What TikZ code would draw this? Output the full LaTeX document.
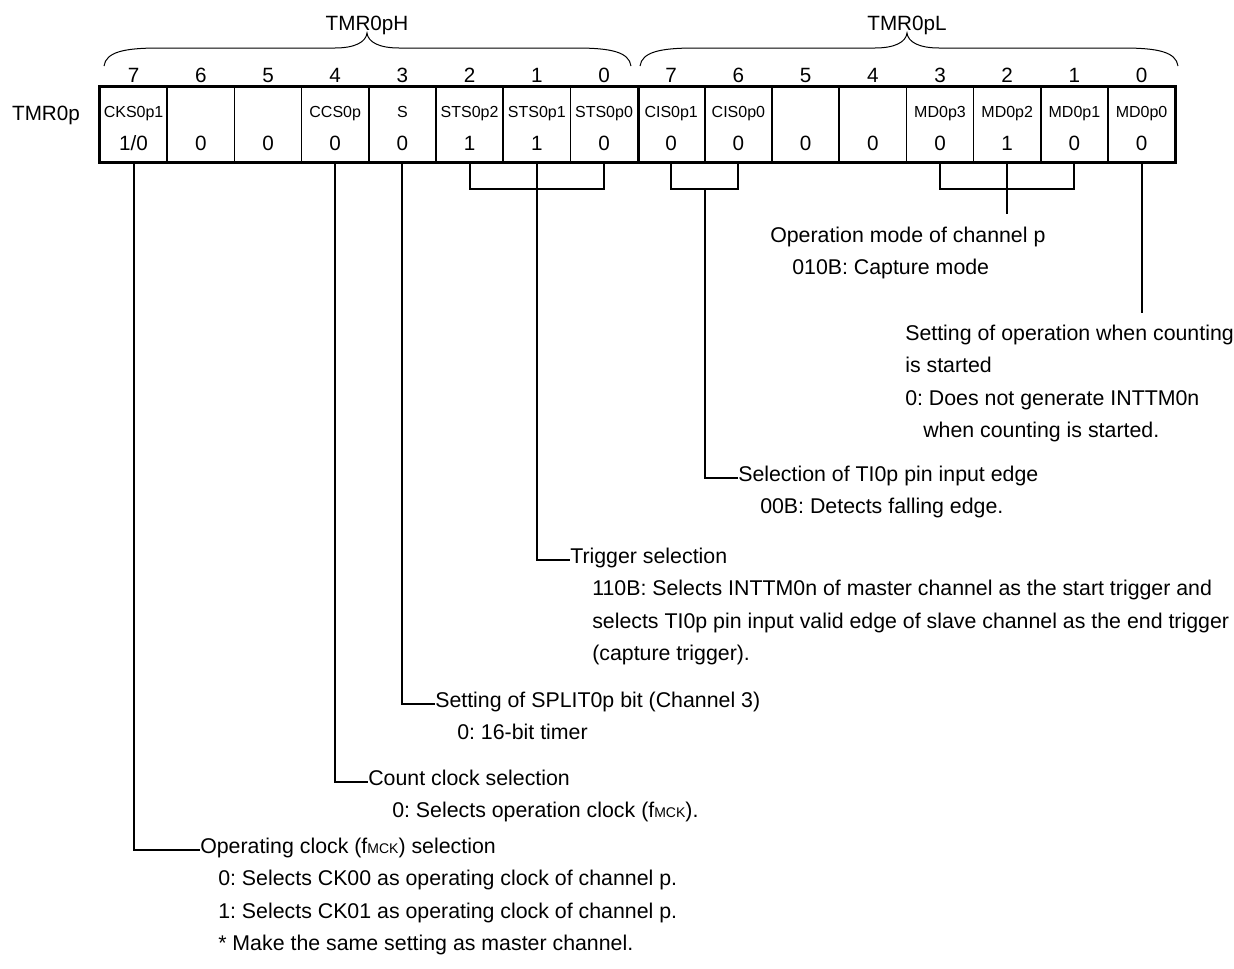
\documentclass[tikz,border=0pt]{standalone}
\usepackage{fontspec}
\setmainfont{Liberation Sans}
\usetikzlibrary{positioning, calc}
\frenchspacing

\tikzset{
  regcell/.style={draw, line width=1.1pt, minimum width=50.4pt, minimum height=56.25pt, inner sep=0pt},
  bitnum/.style={font=\fontsize{15.5}{18}\selectfont, inner sep=0pt},
  bitname/.style={font=\fontsize{12}{14}\selectfont, inner sep=0pt},
  bitval/.style={font=\fontsize{15.5}{18}\selectfont, inner sep=0pt},
  desc/.style={font=\fontsize{16}{24.4}\selectfont, inner sep=0pt, anchor=base west},
  link/.style={line width=1.5pt},
  regbrace/.style={line width=0.75pt}
}
\newcommand{\fmck}{f{\fontsize{10.5}{12}\selectfont MCK}}
% lines of a description, first line on the node's baseline
\newcommand{\desclines}[1]{\begin{tabular}[t]{@{}l@{}}#1\end{tabular}}
% half-register brace: left end, tip, right end
\newcommand{\halfbrace}[3]{%
  \draw[regbrace] (#1,66) .. controls (#1+2,52) and (#1+20,48) .. (#1+55,48)
    -- (#2-32,48) .. controls (#2-12,48) and (#2-1,42) .. (#2,33)
    .. controls (#2+1,42) and (#2+12,48) .. (#2+32,48)
    -- (#3-55,48) .. controls (#3-20,48) and (#3-2,52) .. (#3,66);}

\begin{document}
\begin{tikzpicture}[x=0.75pt, y=-0.75pt]
  \useasboundingbox (0,0) rectangle (1234,968);

  % byte names and braces
  \node[bitval, anchor=base] (hlbl) at (367,30) {TMR0pH};
  \node[bitval, anchor=base] (llbl) at (907,30) {TMR0pL};
  \halfbrace{104}{367}{631}
  \halfbrace{640}{907}{1178}
  \node[bitval, anchor=base] (reglbl) at (46,120) {TMR0p};

  % bit cells
  \foreach \nm/\val [count=\i from 0] in {CKS0p1/{1/0}, /0, /0, CCS0p/0, S/0, STS0p2/1, STS0p1/1, STS0p0/0,
      CIS0p1/0, CIS0p0/0, /0, /0, MD0p3/0, MD0p2/1, MD0p1/0, MD0p0/0}{
    \pgfmathtruncatemacro{\bn}{mod(15-\i,8)}
    \node[regcell] (c\i) at ({100+67.2*(\i+0.5)},124.5) {};
    \node[bitnum, anchor=base] (b\i) at ($(c\i.north)+(0,-4)$) {\bn};
    \node[bitname, anchor=base] (n\i) at ($(c\i.north)+(0,31)$) {\nm};
    \node[bitval, anchor=base] (v\i) at ($(c\i.north)+(0,64)$) {\val};
  }
  \draw[line width=2.25pt] (c0.north west) rectangle (c15.south east);
  \draw[line width=2.25pt] (c7.north east) -- (c7.south east);

  % descriptions
  \node[desc] (opmode) at (770,242) {\desclines{Operation mode of channel p\\
    \hspace*{16.5pt}010B: Capture mode}};
  \node[desc] (cntstart) at (905,340) {\desclines{Setting of operation when counting\\
    is started\\
    0: Does not generate INTTM0n\\
    \hspace*{13.5pt}when counting is started.}};
  \node[desc] (edgesel) at (738,481) {\desclines{Selection of TI0p pin input edge\\
    \hspace*{16.5pt}00B: Detects falling edge.}};
  \node[desc] (trigsel) at (570,563) {\desclines{Trigger selection\\
    \hspace*{16.5pt}110B: Selects INTTM0n of master channel as the start trigger and\\
    \hspace*{16.5pt}selects TI0p pin input valid edge of slave channel as the end trigger\\
    \hspace*{16.5pt}(capture trigger).}};
  \node[desc] (splitsel) at (435,707) {\desclines{Setting of SPLIT0p bit (Channel 3)\\
    \hspace*{16.5pt}0: 16-bit timer}};
  \node[desc] (cntclk) at (368,785) {\desclines{Count clock selection\\
    \hspace*{18pt}0: Selects operation clock (\fmck).}};
  \node[desc] (opclk) at (200,853) {\desclines{Operating clock (\fmck) selection\\
    \hspace*{13.5pt}0: Selects CK00 as operating clock of channel p.\\
    \hspace*{13.5pt}1: Selects CK01 as operating clock of channel p.\\
    \hspace*{13.5pt}* Make the same setting as master channel.}};

  % connectors
  \coordinate (mdend) at ($(c13.south)+(0,51)$);
  \coordinate (md0end) at ($(c15.south)+(0,150)$);
  \coordinate (cismid) at ($(c8.south)!0.5!(c9.south)+(0,26)$);
  \draw[link] (c12.south) -- ++(0,26) -| (c14.south);
  \draw[link] (c13.south) -- (mdend);
  \draw[link] (c15.south) -- (md0end);
  \draw[link] (c8.south) -- ++(0,26) -| (c9.south);
  \draw[link] (cismid) |- ([yshift=2.25pt]edgesel.base west);
  \draw[link] (c5.south) -- ++(0,26) -| (c7.south);
  \draw[link] (c6.south) |- ([yshift=2.25pt]trigsel.base west);
  \draw[link] (c4.south) |- ([yshift=2.25pt]splitsel.base west);
  \draw[link] (c3.south) |- ([yshift=2.25pt]cntclk.base west);
  \draw[link] (c0.south) |- ([yshift=2.25pt]opclk.base west);
\end{tikzpicture}
\end{document}
